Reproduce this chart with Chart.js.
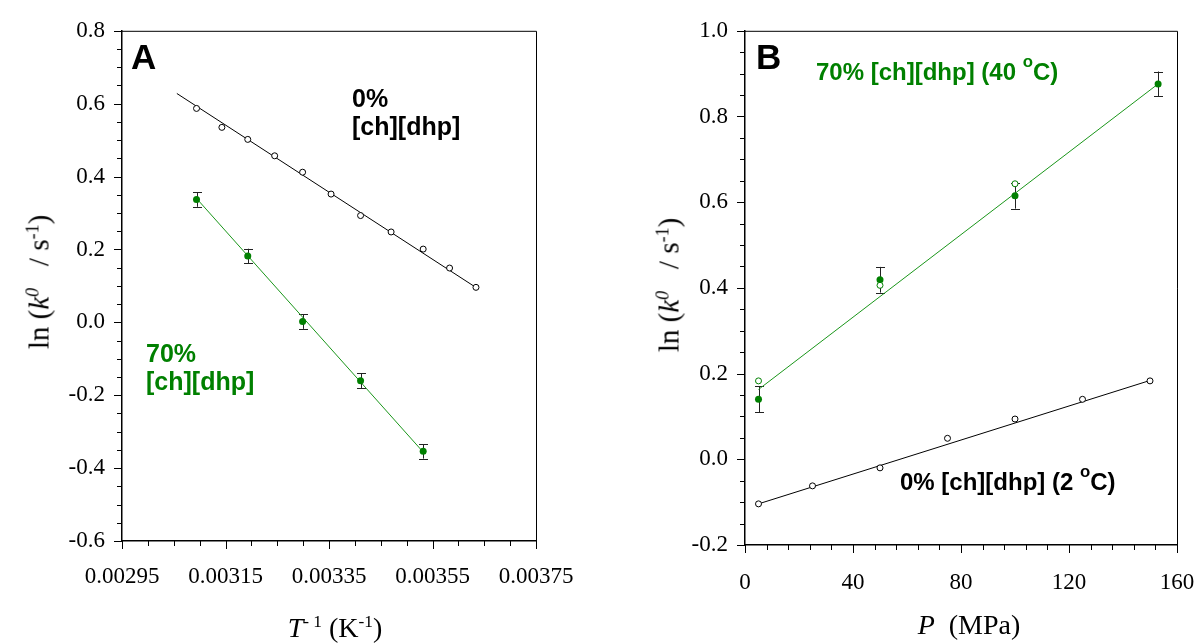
<!DOCTYPE html>
<html lang="en">
<head>
    <meta charset="UTF-8">
    <title>ln k0 vs 1/T and P</title>
    <script src="https://cdn.jsdelivr.net/npm/chart.js"></script>
    <style>
        body { margin: 0; background: #fff; width: 1200px; height: 643px; position: relative; overflow: hidden; }
        canvas { position: absolute; top: 0; }
        #chartA { left: 0; }
        #chartB { left: 600px; }
        .lbl { position: absolute; white-space: nowrap; line-height: 1; }
        .serif { font-family: "Liberation Serif", serif; font-size: 28px; color: #000; }
        .ytitle { font-size: 29px; }
        .bold { font-family: "Liberation Sans", Arial, sans-serif; font-weight: bold; color: #000; }
        .green { color: #008000; }
        .rot { transform: translate(-50%, -50%) rotate(-90deg); }
        sup { font-size: 0.62em; vertical-align: 0.55em; line-height: 0; }
        .bold sup { font-size: 0.7em; vertical-align: 0.75em; }
    </style>
</head>
<body>

<canvas id="chartA" width="600" height="643"></canvas>
<canvas id="chartB" width="640" height="643"></canvas>

<!-- panel labels and axis titles -->
<div class="lbl bold" style="left:131px; top:39px; font-size:35px;">A</div>
<div class="lbl bold" style="left:756px; top:39px; font-size:35px;">B</div>

<div class="lbl bold" style="left:352px; top:84px; font-size:25px; line-height:28px;">0%<br>[ch][dhp]</div>
<div class="lbl bold green" style="left:146px; top:339px; font-size:25px; line-height:28px;">70%<br>[ch][dhp]</div>
<div class="lbl bold green" style="left:816px; top:60px; font-size:24px;">70% [ch][dhp] (40 <sup>o</sup>C)</div>
<div class="lbl bold" style="left:900px; top:470px; font-size:24px;">0% [ch][dhp] (2 <sup>o</sup>C)</div>

<div class="lbl serif ytitle rot" style="left:39px; top:282px;">ln&nbsp;(<i>k</i><sup><i>0</i></sup>&nbsp;&nbsp; / s<sup>-1</sup>)</div>
<div class="lbl serif ytitle rot" style="left:669px; top:285px;">ln&nbsp;(<i>k</i><sup><i>0</i></sup>&nbsp;&nbsp; / s<sup>-1</sup>)</div>
<div class="lbl serif" style="left:335px; top:628px; transform:translate(-50%,-50%);"><i>T</i><sup>- 1</sup> (K<sup>-1</sup>)</div>
<div class="lbl serif" style="left:969px; top:625px; transform:translate(-50%,-50%);"><i>P</i>&nbsp; (MPa)</div>

<script>
// ---- data, panel A: ln k0 vs 1/T ----
const invT0 = [0.003094, 0.003143, 0.003193, 0.003245, 0.003299, 0.003354, 0.003411, 0.003470, 0.003532, 0.003583, 0.003634];
const lnk0 = [0.587, 0.535, 0.502, 0.457, 0.412, 0.352, 0.293, 0.248, 0.201, 0.149, 0.096];
const fitA0x = [0.003056, 0.003638];
const fitA0y = [0.628, 0.092];

const invT70 = [0.003094, 0.003193, 0.003299, 0.003411, 0.003532];
const lnk70 = [0.337, 0.182, 0.002, -0.160, -0.354];
const errA70 = [0.020, 0.020, 0.020, 0.020, 0.020];
const fitA70x = [0.003094, 0.003532];
const fitA70y = [0.340, -0.356];

// ---- data, panel B: ln k0 vs P ----
const pB0 = [5, 25, 50, 75, 100, 125, 150];
const lnkB0 = [-0.104, -0.062, -0.020, 0.049, 0.094, 0.140, 0.183];
const fitB0x = [5, 150];
const fitB0y = [-0.104, 0.184];

const pB70 = [5, 50, 100, 153];
const lnkB70 = [0.140, 0.419, 0.615, 0.876];
const errB70 = [0.030, 0.030, 0.030, 0.029];
const pB70open = [5, 50, 100];
const lnkB70open = [0.183, 0.406, 0.643];
const fitB70x = [5, 153];
const fitB70y = [0.163, 0.876];

// tick settings (major labels / minor marks)
const ticksAx = { min: 0.00295, max: 0.00375, major: 0.0002, minor: 0.00005 };
const ticksAy = { min: -0.6, max: 0.8, major: 0.2, minor: 0.05 };
const ticksBx = { min: 0, max: 160, major: 40, minor: 8 };
const ticksBy = { min: -0.2, max: 1.0, major: 0.2, minor: 0.05 };

const GREEN = '#008000';
const GREEN_LINE = '#1a961a';

function pts(xs, ys) { return xs.map((x, i) => ({ x: x, y: ys[i] })); }

function fmt(v, digits) {
    if (Math.abs(v) < 1e-9) v = 0;
    return v.toFixed(digits);
}

// minor/major tick marks plus the top and right frame lines
const frameTicks = {
    id: 'frameTicks',
    afterDraw(chart) {
        const { ctx, chartArea: a, scales } = chart;
        const conf = chart.options.plugins.frameTicks;
        ctx.save();
        ctx.strokeStyle = '#000';
        ctx.lineWidth = 1;
        ctx.beginPath();
        ctx.moveTo(a.left, a.top + 0.5);
        ctx.lineTo(a.right + 0.5, a.top + 0.5);
        ctx.lineTo(a.right + 0.5, a.bottom);
        ctx.stroke();
        for (const id of ['x', 'y']) {
            const s = scales[id];
            const t = conf[id];
            const n = Math.round((t.max - t.min) / t.minor);
            const every = Math.round(t.major / t.minor);
            ctx.beginPath();
            for (let i = 0; i <= n; i++) {
                const len = (i % every === 0) ? 8 : 5;
                const p = Math.round(s.getPixelForValue(t.min + i * t.minor)) + 0.5;
                if (id === 'x') {
                    ctx.moveTo(p, a.bottom);
                    ctx.lineTo(p, a.bottom + len);
                } else {
                    ctx.moveTo(a.left, p);
                    ctx.lineTo(a.left - len, p);
                }
            }
            ctx.stroke();
        }
        ctx.restore();
    }
};

// vertical error bars with caps, drawn under the points
const errorBars = {
    id: 'errorBars',
    beforeDatasetsDraw(chart) {
        const { ctx, scales } = chart;
        ctx.save();
        ctx.strokeStyle = '#222';
        ctx.lineWidth = 1;
        chart.data.datasets.forEach(ds => {
            if (!ds.errors) return;
            ds.data.forEach((d, i) => {
                const x = Math.round(scales.x.getPixelForValue(d.x)) + 0.5;
                const y1 = scales.y.getPixelForValue(d.y + ds.errors[i]);
                const y2 = scales.y.getPixelForValue(d.y - ds.errors[i]);
                ctx.beginPath();
                ctx.moveTo(x, y1); ctx.lineTo(x, y2);
                ctx.moveTo(x - 4.5, Math.round(y1) + 0.5); ctx.lineTo(x + 4.5, Math.round(y1) + 0.5);
                ctx.moveTo(x - 4.5, Math.round(y2) + 0.5); ctx.lineTo(x + 4.5, Math.round(y2) + 0.5);
                ctx.stroke();
            });
        });
        ctx.restore();
    }
};

function makeScales(tx, ty, yWidth, xHeight, xDigits, xPad) {
    const tickFont = { family: 'Liberation Serif', size: 23 };
    return {
        x: {
            type: 'linear', min: tx.min, max: tx.max,
            grid: { display: false, drawTicks: false },
            border: { display: true, color: '#000', width: 1.5 },
            ticks: {
                stepSize: tx.major, autoSkip: false, maxRotation: 0, padding: xPad,
                color: '#000', font: tickFont,
                callback: v => fmt(v, xDigits)
            },
            afterFit: s => { s.height = xHeight; }
        },
        y: {
            type: 'linear', min: ty.min, max: ty.max,
            grid: { display: false, drawTicks: false },
            border: { display: true, color: '#000', width: 1.5 },
            ticks: {
                stepSize: ty.major, autoSkip: false, padding: 17,
                color: '#000', font: tickFont,
                callback: v => fmt(v, 1)
            },
            afterFit: s => { s.width = yWidth; }
        }
    };
}

function baseOptions(scales, pad, tx, ty) {
    return {
        responsive: false,
        animation: false,
        layout: { padding: pad },
        scales: scales,
        plugins: {
            legend: { display: false },
            tooltip: { enabled: false },
            frameTicks: { x: tx, y: ty }
        }
    };
}

const openBlack = { pointRadius: 3, pointBorderWidth: 1, pointBorderColor: '#000', pointBackgroundColor: '#fff', showLine: false, order: 0 };
const filledGreen = { pointRadius: 3.5, pointBorderWidth: 0, pointBackgroundColor: GREEN, pointBorderColor: GREEN, showLine: false, order: 0 };
const fitLine = c => ({ showLine: true, pointRadius: 0, borderColor: c, borderWidth: 1, order: 1 });

new Chart(document.getElementById('chartA'), {
    type: 'scatter',
    data: {
        datasets: [
            Object.assign({ label: '0% fit', data: pts(fitA0x, fitA0y) }, fitLine('#000')),
            Object.assign({ label: '70% fit', data: pts(fitA70x, fitA70y) }, fitLine(GREEN_LINE)),
            Object.assign({ label: '0% [ch][dhp]', data: pts(invT0, lnk0) }, openBlack),
            Object.assign({ label: '70% [ch][dhp]', data: pts(invT70, lnk70), errors: errA70 }, filledGreen)
        ]
    },
    options: baseOptions(makeScales(ticksAx, ticksAy, 122, 102, 5, 22),
        { left: 0, right: 64, top: 23, bottom: 0 }, ticksAx, ticksAy),
    plugins: [frameTicks, errorBars]
});

new Chart(document.getElementById('chartB'), {
    type: 'scatter',
    data: {
        datasets: [
            Object.assign({ label: '0% fit', data: pts(fitB0x, fitB0y) }, fitLine('#000')),
            Object.assign({ label: '70% fit', data: pts(fitB70x, fitB70y) }, fitLine(GREEN_LINE)),
            Object.assign({ label: '0% [ch][dhp] (2 °C)', data: pts(pB0, lnkB0) }, openBlack),
            Object.assign({ label: '70% open', data: pts(pB70open, lnkB70open) }, openBlack,
                { pointBorderColor: GREEN }),
            Object.assign({ label: '70% [ch][dhp] (40 °C)', data: pts(pB70, lnkB70), errors: errB70 }, filledGreen)
        ]
    },
    options: baseOptions(makeScales(ticksBx, ticksBy, 145, 98, 0, 24),
        { left: 0, right: 63, top: 22, bottom: 0 }, ticksBx, ticksBy),
    plugins: [frameTicks, errorBars]
});
</script>
</body>
</html>
